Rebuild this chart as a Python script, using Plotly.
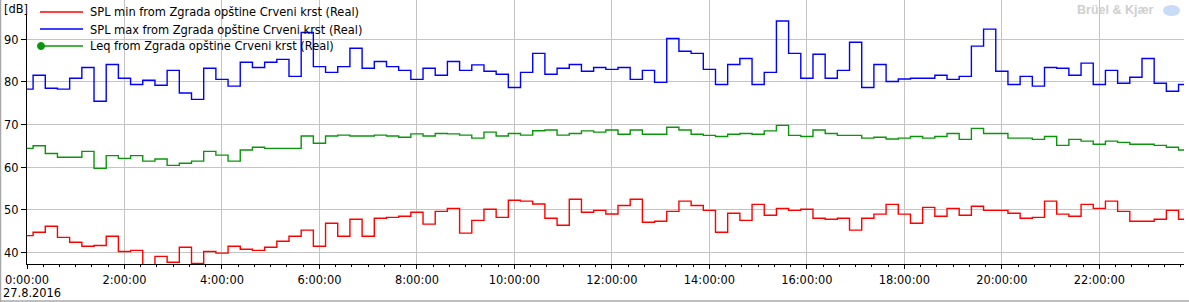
import pandas as pd
import plotly.graph_objects as go

# ---------------- data (15-minute steps, 27.8.2016) ----------------
start_time = "2016-08-26 23:52:30"
interval = "15min"

spl_min = [43.9, 44.7, 46.1, 43.5, 42.35, 41.4, 41.6, 43.75, 40.2, 40.45,
           36.5, 39.05, 37.65, 41.2, 37.4, 40.2, 39.8, 41.4, 40.7, 40.45,
           41.2, 42.6, 43.75, 45.2, 41.4, 46.8, 43.75, 47.75, 43.75, 48.0,
           48.2, 48.45, 49.4, 46.6, 49.6, 50.3, 44.5, 47.5, 50.1, 48.2,
           52.2, 52.0, 51.35, 48.0, 46.35, 52.45, 49.4, 49.85, 49.0, 51.0,
           52.45, 47.05, 47.3, 49.6, 52.0, 51.0, 49.85, 44.7, 49.15, 47.5,
           51.25, 48.7, 50.3, 49.85, 50.1, 48.0, 47.75, 48.0, 45.2, 48.0,
           48.95, 51.25, 48.95, 46.8, 50.55, 48.45, 50.3, 48.7, 50.8, 49.85,
           49.85, 49.15, 48.0, 48.2, 52.0, 48.95, 48.45, 51.25, 50.3, 52.0,
           49.6, 47.3, 47.3, 47.75, 49.85, 47.75]

spl_max = [78.3, 81.55, 78.5, 78.3, 80.85, 83.4, 75.45, 84.1, 80.85, 79.4,
           80.4, 79.2, 82.7, 77.4, 75.9, 83.2, 80.6, 79.0, 84.6, 83.4,
           84.6, 85.3, 81.3, 91.6, 83.6, 82.25, 83.6, 87.9, 83.2, 84.8,
           83.6, 82.7, 80.6, 83.2, 81.55, 84.8, 82.7, 84.0, 82.5, 81.8,
           78.7, 82.25, 86.7, 81.8, 83.2, 84.1, 82.5, 83.4, 82.95, 83.4,
           80.6, 82.7, 79.9, 90.2, 87.2, 86.7, 82.95, 79.4, 84.1, 85.5,
           79.4, 82.25, 94.3, 86.7, 80.85, 86.5, 80.85, 82.7, 89.3, 78.7,
           84.1, 80.1, 80.7, 80.85, 80.85, 81.55, 80.6, 81.3, 88.4, 92.4,
           82.5, 79.4, 81.3, 79.0, 83.4, 83.2, 81.55, 84.4, 79.4, 82.7,
           79.7, 81.1, 85.5, 79.7, 77.8, 79.4]

leq = [64.4, 65.0, 63.2, 62.3, 62.3, 63.7, 59.7, 62.7, 62.05, 62.7,
       61.4, 61.9, 60.4, 60.9, 61.4, 63.7, 62.8, 61.4, 64.0, 64.65,
       64.4, 64.4, 64.4, 67.3, 65.6, 67.3, 67.5, 67.3, 67.3, 67.5,
       67.3, 67.0, 67.8, 67.3, 67.9, 67.8, 67.5, 66.8, 68.2, 67.3,
       67.9, 67.5, 68.55, 68.7, 67.5, 67.9, 68.5, 68.2, 68.7, 67.7,
       68.7, 67.7, 67.7, 69.35, 68.7, 67.7, 67.45, 67.2, 67.7, 67.9,
       67.7, 68.5, 69.8, 67.45, 67.2, 68.7, 67.9, 67.45, 67.45, 66.8,
       67.0, 66.6, 66.8, 67.2, 66.8, 67.2, 67.9, 66.5, 69.1, 67.9,
       67.9, 66.8, 66.8, 66.5, 67.2, 65.1, 66.5, 66.1, 65.35, 66.1,
       65.8, 65.35, 65.35, 65.1, 64.65, 64.0]

series_names = ["SPL min from Zgrada opštine Crveni krst (Real)",
                "SPL max from Zgrada opštine Crveni krst (Real)",
                "Leq from Zgrada opštine Crveni krst (Real)"]
y_ticks = [40, 50, 60, 70, 80, 90]
date_label = "27.8.2016"
unit_label = "[dB]"
brand_label = "Brüel & Kjær"

# ---------------- figure ----------------
W, H = 1189, 302
L, R, T, B = 27, 5, 0, 38
PW, PH = W - L - R, H - T - B

def xp(px):
    return (px - L) / PW

def yp(py):
    return (H - B - py) / PH

times = pd.date_range(start_time, periods=len(spl_min) + 1, freq=interval)

def ext(v):
    return list(v) + [v[-1]]

colors = ["#ff0000", "#0000ff", "#0a960a"]
FONT = "DejaVu Sans Condensed, Liberation Sans, Arial, sans-serif"
FS = 12.7

fig = go.Figure()
for vals, col, name in zip([spl_min, spl_max, leq], colors, series_names):
    fig.add_trace(go.Scatter(x=times, y=ext(vals), mode="lines", name=name,
                             line=dict(color=col, width=1.4, shape="hv"),
                             showlegend=False, hoverinfo="x+y"))

fig.update_layout(
    width=W, height=H, autosize=False,
    margin=dict(l=L, r=R, t=T, b=B, pad=0),
    paper_bgcolor="white", plot_bgcolor="white",
    font=dict(family=FONT, size=FS, color="#000000"),
    showlegend=False,
)

fig.update_xaxes(
    type="date",
    range=["2016-08-27 00:00:00", "2016-08-27 23:44:13"],
    tickformat="%-H:%M:%S", dtick=7200000, tick0="2016-08-27 00:00:00",
    showgrid=True, gridcolor="#c4c4c4", gridwidth=1,
    showline=True, linecolor="#000000", linewidth=1,
    ticks="outside", ticklen=4, tickcolor="#000000", tickwidth=1,
    minor=dict(dtick=1200000, ticks="outside", ticklen=2, tickcolor="#000000", showgrid=False),
    zeroline=False, tickfont=dict(family=FONT, size=FS, color="#000000"),
)
fig.update_yaxes(
    range=[37.25, 99.23],
    tickvals=y_ticks,
    showgrid=True, gridcolor="#c4c4c4", gridwidth=1,
    showline=True, linecolor="#000000", linewidth=1,
    ticks="outside", ticklen=5, tickcolor="#000000",
    zeroline=False, tickfont=dict(family=FONT, size=FS, color="#000000"),
)

shapes = []
# legend background (covers gridlines, not data)
shapes.append(dict(type="rect", xref="paper", yref="paper",
                   x0=xp(30), x1=xp(345), y0=yp(52), y1=yp(0),
                   fillcolor="white", line=dict(width=0), layer="between"))
# [dB] label background
shapes.append(dict(type="rect", xref="paper", yref="paper",
                   x0=xp(0), x1=xp(28), y0=yp(14), y1=yp(0),
                   fillcolor="white", line=dict(width=0), layer="above"))
# legend line samples
for i, col in enumerate(colors):
    ly = 12 + 17 * i
    shapes.append(dict(type="line", xref="paper", yref="paper",
                       x0=xp(40), x1=xp(83), y0=yp(ly), y1=yp(ly),
                       line=dict(color=col, width=1.4), layer="above"))
# Leq legend marker
shapes.append(dict(type="circle", xref="paper", yref="paper",
                   x0=xp(37.5), x1=xp(44.5), y0=yp(49.5), y1=yp(42.5),
                   fillcolor=colors[2], line=dict(color=colors[2], width=1), layer="above"))
# logo blob
shapes.append(dict(type="circle", xref="paper", yref="paper",
                   x0=xp(1163), x1=xp(1180), y0=yp(16), y1=yp(5),
                   fillcolor="#c9dcf5", line=dict(width=0), layer="above"))
# outer frame (left and bottom)
shapes.append(dict(type="line", xref="paper", yref="paper",
                   x0=xp(0.5), x1=xp(0.5), y0=yp(0), y1=yp(302),
                   line=dict(color="#a8a8a8", width=1.5), layer="above"))
shapes.append(dict(type="line", xref="paper", yref="paper",
                   x0=xp(0), x1=xp(1189), y0=yp(301), y1=yp(301),
                   line=dict(color="#a8a8a8", width=1.5), layer="above"))

annotations = []
for i, name in enumerate(series_names):
    annotations.append(dict(text=name, xref="paper", yref="paper",
                            x=xp(88), y=yp(12 + 17 * i), xanchor="left", yanchor="middle",
                            showarrow=False, font=dict(family=FONT, size=FS, color="#000000")))
annotations.append(dict(text=unit_label, xref="paper", yref="paper",
                        x=xp(2), y=yp(9), xanchor="left", yanchor="middle",
                        showarrow=False, font=dict(family=FONT, size=FS, color="#000000")))
annotations.append(dict(text=date_label, xref="paper", yref="paper",
                        x=xp(1), y=yp(292), xanchor="left", yanchor="middle",
                        showarrow=False, font=dict(family=FONT, size=FS, color="#000000")))
annotations.append(dict(text="<b>" + brand_label + "</b>", xref="paper", yref="paper",
                        x=xp(1156), y=yp(10), xanchor="right", yanchor="middle",
                        showarrow=False, font=dict(family="Liberation Sans, Arial, sans-serif", size=12.5, color="#cfcfcf")))

fig.update_layout(shapes=shapes, annotations=annotations)

fig.write_html("out.html")
